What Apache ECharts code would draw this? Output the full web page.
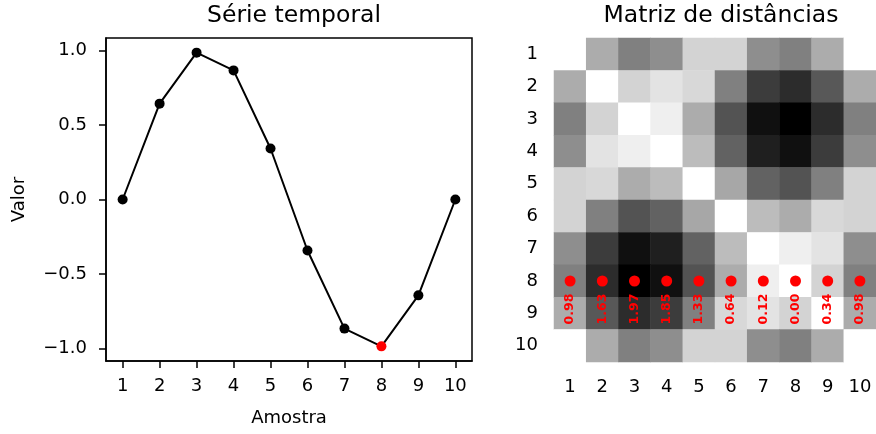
<!DOCTYPE html>
<html>
<head>
<meta charset="utf-8">
<script src="https://cdn.jsdelivr.net/npm/echarts@6/dist/echarts.min.js"></script>
<style>
html,body{margin:0;padding:0;background:#fff;}
#chart{width:876px;height:434px;}
</style>
</head>
<body>
<div id="chart"></div>
<script>
// ---- data ----
const samples = [1, 2, 3, 4, 5, 6, 7, 8, 9, 10];
const serieValues = [0, 0.643, 0.985, 0.866, 0.342, -0.342, -0.866, -0.985, -0.643, 0];
const highlightIndex = 7; // sample 8
const yTicks = [-1.0, -0.5, 0.0, 0.5, 1.0];
const matrixLabels = ['1', '2', '3', '4', '5', '6', '7', '8', '9', '10'];
const distRow1 = [0.00, 0.64, 0.98, 0.87, 0.34, 0.34, 0.87, 0.98, 0.64, 0.00];
const distRow2 = [0.64, 0.00, 0.34, 0.22, 0.30, 0.98, 1.51, 1.63, 1.29, 0.64];
const distRow3 = [0.98, 0.34, 0.00, 0.12, 0.64, 1.33, 1.85, 1.97, 1.63, 0.98];
const distRow4 = [0.87, 0.22, 0.12, 0.00, 0.52, 1.21, 1.73, 1.85, 1.51, 0.87];
const distRow5 = [0.34, 0.30, 0.64, 0.52, 0.00, 0.68, 1.21, 1.33, 0.98, 0.34];
const distRow6 = [0.34, 0.98, 1.33, 1.21, 0.68, 0.00, 0.52, 0.64, 0.30, 0.34];
const distRow7 = [0.87, 1.51, 1.85, 1.73, 1.21, 0.52, 0.00, 0.12, 0.22, 0.87];
const distRow8 = [0.98, 1.63, 1.97, 1.85, 1.33, 0.64, 0.12, 0.00, 0.34, 0.98];
const distRow9 = [0.64, 1.29, 1.63, 1.51, 0.98, 0.30, 0.22, 0.34, 0.00, 0.64];
const distRow10 = [0.00, 0.64, 0.98, 0.87, 0.34, 0.34, 0.87, 0.98, 0.64, 0.00];
const dotLabels = ['0.98', '1.63', '1.97', '1.85', '1.33', '0.64', '0.12', '0.00', '0.34', '0.98'];
const distMax = 1.97;

// ---- build ----
const matrix = [distRow1, distRow2, distRow3, distRow4, distRow5, distRow6, distRow7, distRow8, distRow9, distRow10];
const heatData = [];
matrix.forEach((row, r) => row.forEach((v, c) => heatData.push([c, r, v])));
const lineData = serieValues.map((v, i) => {
  const item = { value: [samples[i], v] };
  if (i === highlightIndex) item.itemStyle = { color: '#ff0000' };
  return item;
});
const dotData = dotLabels.map((t, c) => ({ value: [c, highlightIndex], lab: t }));

const FONT = 'DejaVu Sans';
const fmtNum = v => (v < 0 ? '\u2212' : '') + Math.abs(v).toFixed(1);

const chart = echarts.init(document.getElementById('chart'), null, { renderer: 'canvas' });
chart.setOption({
  animation: false,
  backgroundColor: '#ffffff',
  textStyle: { fontFamily: FONT },
  title: [
    { text: 'Série temporal', left: 289, top: -1, textAlign: 'center',
      textStyle: { fontFamily: FONT, fontSize: 23.5, fontWeight: 'normal', color: '#000' } },
    { text: 'Matriz de distâncias', left: 716, top: -1, textAlign: 'center',
      textStyle: { fontFamily: FONT, fontSize: 23.5, fontWeight: 'normal', color: '#000' } }
  ],
  grid: [
    { left: 106, top: 38, width: 366, height: 323, show: true, borderColor: '#000', borderWidth: 1.5, backgroundColor: 'transparent' },
    { left: 554, top: 38, width: 324, height: 324, show: false }
  ],
  visualMap: {
    show: false, type: 'continuous', min: 0, max: distMax, seriesIndex: 1,
    inRange: { color: ['#ffffff', '#000000'] }
  },
  xAxis: [
    { gridIndex: 0, type: 'value', min: 0.55, max: 10.45,
      name: 'Amostra', nameLocation: 'middle', nameGap: 48,
      nameTextStyle: { fontFamily: FONT, fontSize: 18, color: '#000' },
      axisLine: { show: true, onZero: false, lineStyle: { color: '#000', width: 1.5 } },
      axisTick: { show: true, length: 7, lineStyle: { color: '#000', width: 1.5 }, customValues: samples },
      axisLabel: { fontFamily: FONT, fontSize: 18, color: '#000', margin: 16, customValues: samples },
      splitLine: { show: false } },
    { gridIndex: 1, type: 'category', data: matrixLabels, position: 'bottom',
      axisLine: { show: false }, axisTick: { show: false },
      axisLabel: { fontFamily: FONT, fontSize: 18, color: '#000', margin: 16 },
      splitLine: { show: false } }
  ],
  yAxis: [
    { gridIndex: 0, type: 'value', min: -1.0833, max: 1.0833,
      name: 'Valor', nameLocation: 'middle', nameGap: 78, nameRotate: 90,
      nameTextStyle: { fontFamily: FONT, fontSize: 18, color: '#000' },
      axisLine: { show: true, onZero: false, lineStyle: { color: '#000', width: 1.5 } },
      axisTick: { show: true, length: 7, lineStyle: { color: '#000', width: 1.5 }, customValues: yTicks },
      axisLabel: { fontFamily: FONT, fontSize: 18, color: '#000', margin: 19, customValues: yTicks, formatter: fmtNum },
      splitLine: { show: false } },
    { gridIndex: 1, type: 'category', data: matrixLabels, inverse: true,
      axisLine: { show: false }, axisTick: { show: false },
      axisLabel: { fontFamily: FONT, fontSize: 18, color: '#000', margin: 16 },
      splitLine: { show: false } }
  ],
  series: [
    { type: 'line', xAxisIndex: 0, yAxisIndex: 0, data: lineData,
      symbol: 'circle', symbolSize: 10, showSymbol: true,
      lineStyle: { color: '#000', width: 2 }, itemStyle: { color: '#000', opacity: 1 }, z: 3 },
    { type: 'heatmap', xAxisIndex: 1, yAxisIndex: 1, data: heatData,
      itemStyle: { borderWidth: 0 }, emphasis: { disabled: true } },
    { type: 'scatter', xAxisIndex: 1, yAxisIndex: 1, data: dotData,
      symbol: 'circle', symbolSize: 11, itemStyle: { color: '#ff0000', opacity: 1 }, z: 5,
      label: { show: true, position: 'inside', offset: [-28, 0], rotate: 90,
        formatter: p => p.data.lab, fontFamily: FONT, fontSize: 12.5, fontWeight: 'bold', color: '#ff0000',
        align: 'center', verticalAlign: 'middle' } }
  ]
});
</script>
</body>
</html>
